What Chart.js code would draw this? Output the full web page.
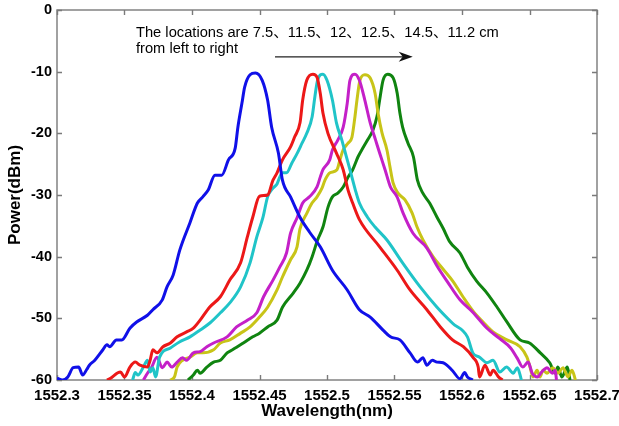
<!DOCTYPE html>
<html>
<head>
<meta charset="utf-8">
<script src="https://cdn.jsdelivr.net/npm/chart.js@4/dist/chart.umd.min.js"></script>
<style>
  body { margin: 0; background: #fff; }
  canvas { display: block; }
</style>
</head>
<body>
<canvas id="spectra" width="619" height="426"></canvas>
<script>
// reflection spectra, wavelength (nm) vs power (dBm)
const blue = [[1552.300,-59.7],[1552.304,-60],[1552.308,-59.5],[1552.312,-58.0],[1552.316,-57.9],[1552.319,-59.2],[1552.322,-58.3],[1552.324,-57.6],[1552.328,-56.8],[1552.334,-55.1],[1552.337,-54.3],[1552.339,-54.6],[1552.344,-53.5],[1552.348,-53.5],[1552.354,-51.6],[1552.359,-50.6],[1552.367,-49.5],[1552.371,-48.6],[1552.378,-47.0],[1552.3815,-44.9],[1552.386,-43.0],[1552.391,-38.9],[1552.3985,-34.5],[1552.404,-31.3],[1552.408,-30.3],[1552.412,-29.2],[1552.417,-26.8],[1552.422,-26.8],[1552.427,-24.3],[1552.432,-22.4],[1552.434,-19.0],[1552.437,-15.1],[1552.439,-12.5],[1552.443,-10.5],[1552.447,-10.2],[1552.452,-11.4],[1552.456,-14.6],[1552.459,-19.0],[1552.464,-23.2],[1552.467,-27.6],[1552.473,-30.3],[1552.480,-33.6],[1552.487,-36.0],[1552.495,-38.4],[1552.504,-42.2],[1552.515,-45.4],[1552.524,-48.6],[1552.532,-49.8],[1552.5415,-51.9],[1552.547,-53.0],[1552.554,-53.5],[1552.5615,-55.6],[1552.567,-57.1],[1552.571,-56.4],[1552.574,-57.6],[1552.578,-56.8],[1552.5815,-57.1],[1552.586,-57.2],[1552.593,-58.5],[1552.5985,-59.8],[1552.602,-58.8],[1552.604,-59.5],[1552.608,-60]];
const red = [[1552.337,-60],[1552.339,-59.8],[1552.347,-58.7],[1552.350,-59.5],[1552.354,-57.9],[1552.358,-57.1],[1552.3615,-57.6],[1552.367,-57.9],[1552.369,-56.8],[1552.371,-55.1],[1552.374,-55.6],[1552.3785,-54.6],[1552.384,-54.0],[1552.389,-53.0],[1552.396,-52.2],[1552.401,-51.6],[1552.406,-50.3],[1552.413,-48.2],[1552.421,-46.5],[1552.428,-43.8],[1552.436,-41.0],[1552.441,-36.8],[1552.445,-33.6],[1552.450,-30.2],[1552.456,-30.0],[1552.460,-27.6],[1552.463,-26.4],[1552.467,-24.3],[1552.473,-22.2],[1552.476,-20.6],[1552.480,-18.3],[1552.482,-14.6],[1552.485,-11.4],[1552.4896,-10.4],[1552.4926,-10.9],[1552.495,-13.5],[1552.497,-16.7],[1552.5007,-20.0],[1552.507,-23.2],[1552.512,-25.9],[1552.5156,-29.2],[1552.519,-31.3],[1552.524,-34.0],[1552.539,-38.4],[1552.552,-42.2],[1552.5615,-45.4],[1552.574,-48.6],[1552.584,-51.4],[1552.593,-53.5],[1552.601,-54.6],[1552.608,-56.3],[1552.612,-57.9],[1552.613,-59.5],[1552.617,-57.6],[1552.621,-59.2],[1552.623,-58.4],[1552.627,-59.5],[1552.630,-60]];
const cyan = [[1552.356,-60],[1552.358,-58.8],[1552.360,-59.2],[1552.364,-57.9],[1552.367,-56.8],[1552.369,-58.7],[1552.371,-58.0],[1552.373,-59.5],[1552.376,-56.3],[1552.384,-54.8],[1552.391,-53.8],[1552.3985,-53.0],[1552.406,-51.9],[1552.413,-50.8],[1552.421,-49.1],[1552.428,-47.5],[1552.436,-44.9],[1552.443,-41.0],[1552.448,-36.8],[1552.4526,-33.6],[1552.456,-30.3],[1552.460,-28.9],[1552.463,-28.2],[1552.465,-27.1],[1552.467,-26.4],[1552.470,-26.4],[1552.474,-24.8],[1552.478,-23.2],[1552.4815,-21.6],[1552.485,-20.0],[1552.489,-17.3],[1552.491,-14.1],[1552.493,-11.4],[1552.497,-10.4],[1552.500,-11.4],[1552.504,-14.6],[1552.507,-18.3],[1552.511,-21.1],[1552.513,-22.7],[1552.517,-25.9],[1552.521,-29.2],[1552.524,-31.3],[1552.530,-33.6],[1552.5356,-35.2],[1552.5444,-37.3],[1552.556,-41.0],[1552.569,-44.9],[1552.5815,-48.2],[1552.593,-50.8],[1552.604,-53.0],[1552.608,-55.6],[1552.613,-56.3],[1552.6185,-57.2],[1552.623,-56.8],[1552.628,-58.7],[1552.633,-57.9],[1552.638,-58.9],[1552.641,-58.0],[1552.644,-60]];
const magenta = [[1552.364,-60],[1552.367,-58.9],[1552.370,-58.0],[1552.374,-56.3],[1552.378,-58.0],[1552.3815,-57.1],[1552.385,-57.9],[1552.389,-57.1],[1552.393,-56.4],[1552.396,-56.8],[1552.401,-55.6],[1552.406,-55.4],[1552.411,-54.6],[1552.416,-54.0],[1552.426,-53.0],[1552.433,-51.4],[1552.441,-50.3],[1552.448,-49.1],[1552.453,-46.5],[1552.460,-43.8],[1552.465,-41.7],[1552.470,-39.4],[1552.473,-36.2],[1552.478,-33.6],[1552.482,-31.3],[1552.487,-30.3],[1552.4926,-28.7],[1552.495,-27.1],[1552.497,-25.9],[1552.502,-24.3],[1552.504,-22.7],[1552.508,-21.1],[1552.512,-19.0],[1552.515,-15.1],[1552.517,-11.4],[1552.5207,-10.4],[1552.524,-11.4],[1552.528,-14.6],[1552.532,-18.3],[1552.536,-21.1],[1552.539,-23.2],[1552.543,-25.9],[1552.547,-28.7],[1552.5519,-30.3],[1552.5563,-32.9],[1552.5637,-36.2],[1552.574,-38.6],[1552.5815,-41.5],[1552.589,-44.0],[1552.5985,-47.0],[1552.608,-49.0],[1552.6185,-51.6],[1552.628,-53.3],[1552.636,-54.8],[1552.641,-56.5],[1552.645,-57.9],[1552.649,-57.1],[1552.652,-58.9],[1552.656,-59.5],[1552.659,-58.7],[1552.663,-58.0],[1552.667,-58.9],[1552.669,-58.4],[1552.670,-60]];
const yellow = [[1552.384,-60],[1552.387,-59.5],[1552.389,-57.9],[1552.393,-56.8],[1552.3985,-56.3],[1552.404,-55.6],[1552.408,-55.6],[1552.416,-55.1],[1552.421,-54.0],[1552.428,-53.5],[1552.436,-52.4],[1552.443,-51.4],[1552.450,-49.8],[1552.456,-48.2],[1552.463,-45.4],[1552.467,-43.3],[1552.473,-40.5],[1552.4778,-38.4],[1552.480,-35.5],[1552.4852,-32.9],[1552.4889,-31.3],[1552.4926,-30.3],[1552.4963,-28.9],[1552.4985,-27.6],[1552.5022,-26.4],[1552.5074,-25.9],[1552.5096,-24.3],[1552.5119,-22.7],[1552.5156,-21.6],[1552.5185,-20.6],[1552.5207,-17.3],[1552.5222,-14.6],[1552.5244,-11.4],[1552.5281,-10.5],[1552.5319,-11.0],[1552.5356,-13.5],[1552.5378,-16.7],[1552.5407,-19.9],[1552.5444,-22.7],[1552.5467,-25.5],[1552.5489,-28.0],[1552.5526,-29.7],[1552.5578,-30.8],[1552.563,-32.9],[1552.5667,-35.2],[1552.5711,-37.3],[1552.5785,-40.0],[1552.5859,-42.0],[1552.5933,-44.0],[1552.6007,-46.5],[1552.6081,-48.8],[1552.6156,-50.6],[1552.623,-52.2],[1552.6333,-53.5],[1552.643,-54.6],[1552.6481,-56.3],[1552.6504,-57.9],[1552.6526,-59.5],[1552.6556,-58.4],[1552.6578,-59.5],[1552.660,-58.4],[1552.663,-58.9],[1552.6674,-58.0],[1552.6711,-58.9],[1552.6748,-58.0],[1552.6785,-59.5],[1552.6815,-58.4],[1552.684,-60]];
const green = [[1552.397,-60],[1552.401,-59.2],[1552.404,-58.4],[1552.406,-58.9],[1552.411,-57.9],[1552.416,-57.1],[1552.421,-56.8],[1552.426,-55.6],[1552.430,-55.1],[1552.438,-54.0],[1552.445,-53.0],[1552.450,-52.4],[1552.456,-51.4],[1552.463,-50.3],[1552.467,-48.2],[1552.475,-45.9],[1552.480,-44.3],[1552.485,-42.2],[1552.489,-40.0],[1552.493,-37.3],[1552.497,-35.2],[1552.5007,-32.0],[1552.504,-30.3],[1552.508,-29.7],[1552.512,-28.7],[1552.5156,-27.1],[1552.519,-25.9],[1552.523,-23.8],[1552.527,-22.2],[1552.530,-21.1],[1552.534,-19.5],[1552.537,-17.3],[1552.539,-14.6],[1552.5415,-11.4],[1552.545,-10.4],[1552.549,-11.0],[1552.552,-13.5],[1552.554,-16.7],[1552.556,-19.0],[1552.560,-21.6],[1552.564,-23.8],[1552.567,-27.6],[1552.571,-29.7],[1552.576,-31.3],[1552.5815,-33.6],[1552.586,-35.4],[1552.591,-37.6],[1552.5985,-39.4],[1552.604,-41.7],[1552.611,-44.0],[1552.6185,-45.9],[1552.626,-48.2],[1552.633,-50.5],[1552.643,-53.5],[1552.650,-54.0],[1552.658,-55.6],[1552.665,-57.2],[1552.669,-58.9],[1552.671,-57.9],[1552.674,-59.5],[1552.678,-57.9],[1552.680,-60]];

const xTicks = [1552.3, 1552.35, 1552.4, 1552.45, 1552.5, 1552.55, 1552.6, 1552.65, 1552.7];
const yTicks = [0, -10, -20, -30, -40, -50, -60];

const noteLines = ['The locations are 7.5\u300111.5\u300112\u300112.5\u300114.5\u300111.2 cm', 'from left to right'];

const FONT = '"Liberation Sans", Arial, "Noto Sans CJK SC", sans-serif';
const AXIS_GREY = '#7a7a7a';

function series(points, color) {
  return {
    data: points.map(p => ({ x: p[0], y: p[1] })),
    borderColor: color,
    borderWidth: 3,
    pointRadius: 0,
    showLine: true,
    fill: false,
    cubicInterpolationMode: 'monotone'
  };
}

// frame with inward ticks on all four sides
const boxPlugin = {
  id: 'box',
  beforeDatasetsDraw(chart) {
    const { ctx, chartArea: a, scales } = chart;
    ctx.save();
    ctx.strokeStyle = AXIS_GREY;
    ctx.lineWidth = 1.4;
    ctx.strokeRect(a.left, a.top, a.right - a.left, a.bottom - a.top);
    ctx.beginPath();
    xTicks.forEach(v => {
      const px = Math.round(scales.x.getPixelForValue(v)) + 0.5;
      ctx.moveTo(px, a.bottom); ctx.lineTo(px, a.bottom - 5);
      ctx.moveTo(px, a.top); ctx.lineTo(px, a.top + 5);
    });
    yTicks.forEach(v => {
      const py = Math.round(scales.y.getPixelForValue(v)) + 0.5;
      ctx.moveTo(a.left, py); ctx.lineTo(a.left + 5, py);
      ctx.moveTo(a.right, py); ctx.lineTo(a.right - 5, py);
    });
    ctx.stroke();
    ctx.restore();
  }
};

// text note and arrow above the peaks
const notePlugin = {
  id: 'note',
  afterDraw(chart) {
    const { ctx, scales } = chart;
    const x0 = scales.x.getPixelForValue(1552.3585);
    ctx.save();
    ctx.fillStyle = '#000';
    ctx.font = '14.7px ' + FONT;
    ctx.textBaseline = 'middle';
    ctx.textAlign = 'left';
    ctx.fillText(noteLines[0], x0, scales.y.getPixelForValue(-3.7));
    ctx.fillText(noteLines[1], x0, scales.y.getPixelForValue(-6.3));

    const ay = scales.y.getPixelForValue(-7.6);
    const ax1 = scales.x.getPixelForValue(1552.4615);
    const ax2 = scales.x.getPixelForValue(1552.5635);
    ctx.strokeStyle = '#222';
    ctx.lineWidth = 1.3;
    ctx.beginPath();
    ctx.moveTo(ax1, ay);
    ctx.lineTo(ax2 - 8, ay);
    ctx.stroke();
    ctx.beginPath();
    ctx.moveTo(ax2, ay);
    ctx.lineTo(ax2 - 14, ay - 5);
    ctx.lineTo(ax2 - 10, ay);
    ctx.lineTo(ax2 - 14, ay + 5);
    ctx.closePath();
    ctx.fillStyle = '#111';
    ctx.fill();
    ctx.restore();
  }
};

new Chart(document.getElementById('spectra'), {
  type: 'scatter',
  data: {
    datasets: [
      series(blue, '#1010e8'),
      series(red, '#ec1818'),
      series(cyan, '#20c4c8'),
      series(magenta, '#c420c8'),
      series(yellow, '#c8c418'),
      series(green, '#108410')
    ]
  },
  options: {
    responsive: false,
    animation: false,
    layout: { padding: { top: 10, right: 22, left: 0, bottom: 0 } },
    plugins: { legend: { display: false }, tooltip: { enabled: false } },
    scales: {
      x: {
        type: 'linear',
        min: 1552.3,
        max: 1552.7,
        afterBuildTicks: s => { s.ticks = xTicks.map(v => ({ value: v })); },
        afterFit: s => { s.height = 46; s.paddingLeft = 0; s.paddingRight = 0; },
        grid: { display: false, drawTicks: false },
        border: { display: false },
        ticks: {
          color: '#000',
          font: { family: FONT, size: 15, weight: 'bold' },
          padding: 7,
          maxRotation: 0,
          autoSkip: false,
          callback: v => String(+v.toFixed(2))
        },
        title: {
          display: true,
          text: 'Wavelength(nm)',
          color: '#000',
          font: { family: FONT, size: 17, weight: 'bold' },
          padding: { top: 0, bottom: 4 }
        }
      },
      y: {
        type: 'linear',
        min: -60,
        max: 0,
        afterBuildTicks: s => { s.ticks = yTicks.map(v => ({ value: v })); },
        afterFit: s => { s.width = 57; s.paddingTop = 0; s.paddingBottom = 0; },
        grid: { display: false, drawTicks: false },
        border: { display: false },
        ticks: {
          color: '#000',
          font: { family: FONT, size: 14.5, weight: 'bold' },
          padding: 5,
          autoSkip: false
        },
        title: {
          display: true,
          text: 'Power(dBm)',
          color: '#000',
          font: { family: FONT, size: 17, weight: 'bold' },
          padding: { top: 5, bottom: 0 }
        }
      }
    }
  },
  plugins: [boxPlugin, notePlugin]
});
</script>
</body>
</html>
